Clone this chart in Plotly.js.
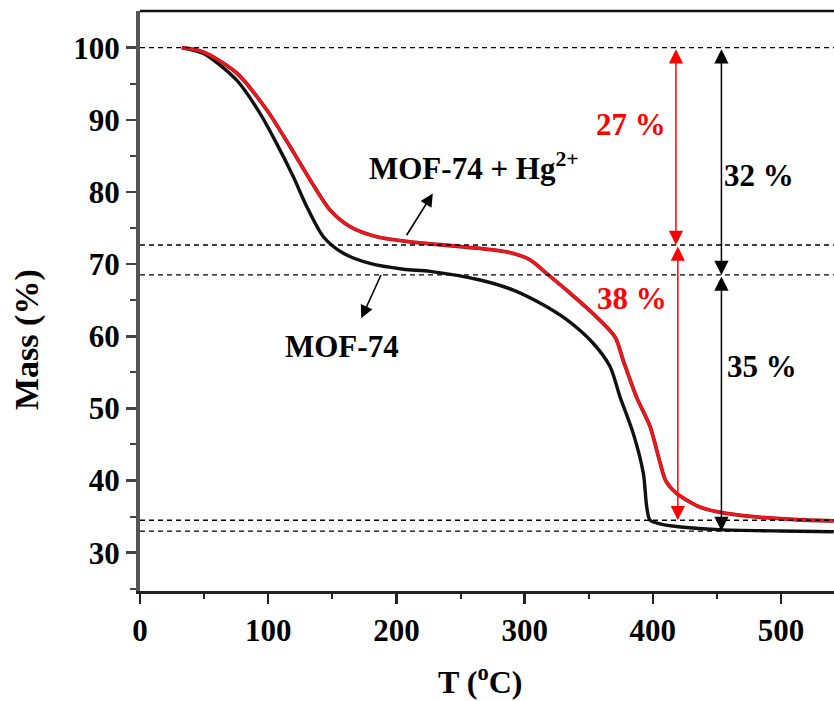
<!DOCTYPE html>
<html><head><meta charset="utf-8">
<script src="https://cdn.plot.ly/plotly-3.0.1.min.js"></script>
<style>html,body{margin:0;padding:0;background:#fff;}#chart{width:834px;height:701px;}</style>
</head><body><div id="chart"></div>
<script>
// MOF-74 (black)
const tempMOF = [32.5, 49.4, 75.4, 93.6, 106.6, 119.6, 130, 143, 158.6, 179.4, 205.4, 226.2, 265.2, 291.2, 312, 332.8, 353.6, 366.6, 374.4, 384.8, 392.6, 395.2, 397.8, 405.6, 420, 452, 500, 541];
const massMOF = [100, 99.2, 95.5, 90.9, 86.7, 82.1, 78.0, 73.8, 71.5, 70.1, 69.3, 69.0, 67.8, 66.4, 64.6, 62.3, 59.0, 55.8, 51.6, 46.5, 41.0, 36.4, 34.5, 34.0, 33.6, 33.2, 33.0, 32.9];
// MOF-74 + Hg2+ (red)
const tempHg = [33, 49.4, 75.4, 98.8, 117, 132.6, 148.2, 163.8, 184.6, 210.6, 252.2, 286, 304.2, 317.2, 334, 353.6, 370.5, 376.8, 387.2, 397.8, 405.6, 410, 418, 426.4, 437, 452.4, 478.4, 510, 541];
const massHg = [100, 99.4, 96.5, 91.4, 86.3, 81.7, 77.5, 75.2, 73.8, 73.1, 72.4, 71.7, 70.6, 68.7, 66.2, 63.1, 59.9, 56.7, 51.6, 47.5, 42.5, 40.0, 38.3, 37.3, 36.3, 35.6, 35.0, 34.6, 34.4];

const xTickVals = [0, 100, 200, 300, 400, 500];
const yTickVals = [30, 40, 50, 60, 70, 80, 90, 100];
const refLevels = [100, 72.65, 68.5, 34.5, 33.0];

// mass-loss steps: [T position, from, to, label, label T, label M, color]
const stepArrows = [
  {t: 418,   from: 100,   to: 72.65, label: '27 %', lt: 382.9, lm: 89.4,  color: '#ff0000'},
  {t: 419.5, from: 72.65, to: 34.5,  label: '38 %', lt: 383.7, lm: 65.3,  color: '#ff0000'},
  {t: 453.5, from: 100,   to: 68.5,  label: '32 %', lt: 482.8, lm: 82.35, color: '#000000'},
  {t: 453.5, from: 68.5,  to: 33.0,  label: '35 %', lt: 485.5, lm: 55.8,  color: '#000000'}
];
// curve labels: text, text pos, arrow tail, arrow head
const curveLabels = [
  {text: 'MOF-74 + Hg<sup>2+</sup>', x: 260.3, y: 83.6, tail: [207.2, 73.8], head: [228.4, 79.8]},
  {text: 'MOF-74', x: 157.5, y: 58.55, tail: [188.5, 68.7], head: [172.6, 62.5]}
];

const FONT = 'Liberation Serif, Times New Roman, serif';
const traces = [
  {x: tempMOF, y: massMOF, mode: 'lines', line: {color: '#111111', width: 3.4, shape: 'spline', smoothing: 0.8}, hoverinfo: 'skip'},
  {x: tempHg, y: massHg, mode: 'lines', line: {color: '#a01010', width: 3.8, shape: 'spline', smoothing: 0.8}, hoverinfo: 'skip'},
  {x: tempHg, y: massHg, mode: 'lines', line: {color: '#f01820', width: 2.6, shape: 'spline', smoothing: 0.8}, hoverinfo: 'skip'}
];

const shapes = refLevels.map(v => ({
  type: 'line', xref: 'paper', x0: 0, x1: 1, yref: 'y', y0: v, y1: v,
  line: {color: '#000', width: 1.3, dash: '5px,4px'}, layer: 'above'
}));
shapes.push({type: 'line', xref: 'paper', yref: 'paper', x0: 0, x1: 1, y0: 1, y1: 1, line: {color: '#111', width: 2.5}});

const annotations = [];
stepArrows.forEach(a => {
  annotations.push({x: a.t, y: a.to, ax: a.t, ay: a.from, xref: 'x', yref: 'y', axref: 'x', ayref: 'y',
    text: '', showarrow: true, arrowhead: 2, startarrowhead: 2, arrowside: 'end+start',
    arrowsize: 1.9, startarrowsize: 1.9, arrowwidth: 1.5, arrowcolor: a.color, standoff: 0, startstandoff: 0});
  annotations.push({x: a.lt, y: a.lm, xref: 'x', yref: 'y', text: a.label, showarrow: false,
    font: {family: FONT, size: 31, color: a.color === '#000000' ? '#000' : '#ff0000', weight: 'bold'}});
});
curveLabels.forEach(c => {
  annotations.push({x: c.x, y: c.y, xref: 'x', yref: 'y', text: c.text, showarrow: false,
    font: {family: FONT, size: 31, color: '#000', weight: 'bold'}});
  annotations.push({x: c.head[0], y: c.head[1], ax: c.tail[0], ay: c.tail[1], xref: 'x', yref: 'y', axref: 'x', ayref: 'y',
    text: '', showarrow: true, arrowhead: 2, arrowsize: 1.6, arrowwidth: 1.6, arrowcolor: '#000', standoff: 0});
});
annotations.push({xref: 'paper', yref: 'paper', x: 0.4905, y: -0.153, xanchor: 'center', yanchor: 'middle',
  text: 'T (<sup>o</sup>C)', showarrow: false,
  font: {family: FONT, size: 32, color: '#000', weight: 'bold'}});
annotations.push({xref: 'paper', yref: 'paper', x: -0.1628, y: 0.4328, xanchor: 'center', yanchor: 'middle',
  text: 'Mass (%)', textangle: -90, showarrow: false,
  font: {family: FONT, size: 34, color: '#000', weight: 'bold'}});

const layout = {
  width: 834, height: 701,
  margin: {l: 140, r: 0, t: 11, b: 110, pad: 0},
  paper_bgcolor: '#fff', plot_bgcolor: '#fff',
  showlegend: false,
  xaxis: {range: [0, 541.3], tickvals: xTickVals, ticktext: xTickVals.map(String), ticks: 'outside', ticklen: 10, tickwidth: 2.5, tickcolor: '#222',
    showline: true, linecolor: '#222', linewidth: 3, showgrid: false, zeroline: false,
    minor: {tickvals: [50, 150, 250, 350, 450], ticks: 'outside', ticklen: 5, tickwidth: 2, tickcolor: '#222'},
    tickfont: {family: FONT, size: 31, color: '#000', weight: 'bold'}},
  yaxis: {range: [24.69, 105.09], tickvals: yTickVals, ticktext: yTickVals.map(String), ticks: 'outside', ticklen: 10, tickwidth: 2.5, tickcolor: '#444',
    showline: true, linecolor: '#555', linewidth: 4, showgrid: false, zeroline: false,
    minor: {tickvals: [25, 35, 45, 55, 65, 75, 85, 95], ticks: 'outside', ticklen: 6, tickwidth: 2, tickcolor: '#444'},
    tickfont: {family: FONT, size: 31, color: '#000', weight: 'bold'}},
  shapes: shapes,
  annotations: annotations
};
Plotly.newPlot('chart', traces, layout, {staticPlot: true, displayModeBar: false});
</script></body></html>
